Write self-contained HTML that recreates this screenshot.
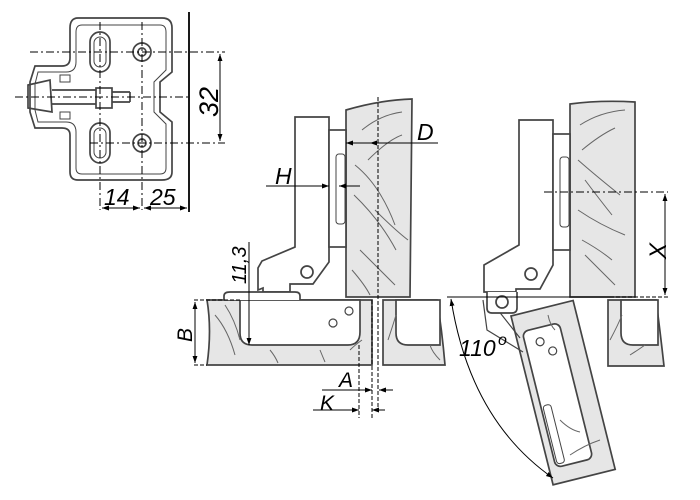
<!DOCTYPE html>
<html><head><meta charset="utf-8"><style>
html,body{margin:0;padding:0;background:#fff;}
svg{display:block;}
text{font-family:"Liberation Sans",sans-serif;font-style:italic;fill:#000;}
</style></head><body>
<svg width="700" height="500" viewBox="0 0 700 500" xmlns="http://www.w3.org/2000/svg">
<defs>
<marker id="ar" viewBox="0 0 10 10" refX="10" refY="5" markerWidth="7" markerHeight="7" orient="auto-start-reverse"><path d="M0,1.5 L10,5 L0,8.5z" fill="#000"/></marker>
</defs>
<g fill="none" stroke="#444" stroke-width="1.7">
<path d="M78,18 H162 Q172,18 172,28 V72 L160,82 V112 L172,122 V172 Q172,180 162,180 H78 Q70,180 70,172 V135 Q70,128 62,128 H35 L30,112 V82 L35,66 H62 Q70,66 70,58 V28 Q70,18 78,18z"/>
<path d="M82,25 H160 Q166,25 166,32 V70 L154,82 V112 L166,124 V168 Q166,174 160,174 H82 Q76,174 76,168 V132 Q76,122 66,122 H38 L35,110 V84 L38,72 H66 Q76,72 76,62 V32 Q76,25 82,25z" stroke-width="1"/>
<rect x="90" y="32" width="20" height="40" rx="10"/>
<rect x="94" y="37" width="12" height="30" rx="6" stroke-width="1"/>
<rect x="90" y="123" width="20" height="40" rx="10"/>
<rect x="94" y="128" width="12" height="30" rx="6" stroke-width="1"/>
<circle cx="142" cy="52" r="9"/><circle cx="142" cy="52" r="4"/>
<circle cx="142" cy="143" r="9"/><circle cx="142" cy="143" r="4"/>
<rect x="96" y="88" width="16" height="20"/>
<path d="M28,85 L50,80 L52,112 L28,108z"/>
<path d="M52,90 H96 M52,104 H96 M112,92 H130 M112,102 H130 M130,92 V102"/>
<path d="M60,75 H70 V82 H60z M60,112 H70 V119 H60z" stroke-width="1"/>
</g>
<g stroke="#000" stroke-width="1" fill="none">
<path d="M30,52 H225 M15,97 H190 M90,143 H225 M100,22 V210 M142,22 V210" stroke-dasharray="8,3,2,3"/>
<path d="M189,12 V212" stroke-width="1.8"/>
<path d="M220,54 V141" marker-start="url(#ar)" marker-end="url(#ar)"/>
<path d="M102,208 H140" marker-start="url(#ar)" marker-end="url(#ar)"/>
<path d="M144,208 H187" marker-start="url(#ar)" marker-end="url(#ar)"/>
</g>
<text x="0" y="0" font-size="27" font-style="normal" transform="translate(218,117) rotate(-90)">32</text>
<text x="104" y="205" font-size="23">14</text>
<text x="150" y="205" font-size="23">25</text>

<!-- middle drawing -->
<g stroke="#444" stroke-width="1.7">
<path d="M346,110 Q380,100 412,99 L410,297 H346z" fill="#e6e6e6"/>
<path d="M207,300 H372 V365 H207 Q212,330 207,300z" fill="#e6e6e6"/>
<path d="M240,300 H360 V332 Q360,345 348,345 H252 Q240,345 240,333z" fill="#fff"/>
<path d="M383,300 H437 Q442,330 445,365 H383z" fill="#e6e6e6"/>
<path d="M396,300 H440 V345 H408 Q396,345 396,333z" fill="#fff"/>
<path d="M295,117 H329 V262 L313,284 H290 V292 L263,292 V288 L258,290 V268 L262,261 L295,247z" fill="#fff"/>
<rect x="329" y="130" width="17" height="117" fill="#fff"/>
<rect x="336" y="154" width="9" height="70" rx="3" fill="#fff" stroke-width="1"/>
<path d="M224,300 V296 Q224,292 230,292 H295 Q300,292 300,296 V300" fill="#fff"/>
<circle cx="307" cy="272" r="6" fill="#fff"/>
<circle cx="333" cy="323" r="4" fill="#fff" stroke-width="1.2"/>
<circle cx="349" cy="311" r="4" fill="#fff" stroke-width="1.2"/>
</g>
<g stroke="#666" stroke-width="1" fill="none">
<path d="M362,130 Q380,115 402,112 M368,160 Q388,140 402,135 M355,165 Q380,185 395,225 M354,195 Q380,220 396,250 M360,250 Q380,270 395,285 M375,210 Q395,230 408,240 M352,270 Q365,285 370,295"/>
<path d="M215,315 Q228,330 235,355 M225,305 Q235,320 240,340 M270,350 Q275,356 278,363 M320,350 Q322,355 325,362 M350,350 Q355,345 362,340 M388,340 Q393,325 396,315 M430,345 Q432,352 440,360"/>
</g>
<g stroke="#000" stroke-width="1" fill="none">
<path d="M378,97 V412 M372,300 V418 M359,345 V418" stroke-dasharray="4,2"/>
<path d="M194,300 H240 M194,365 H207" stroke-dasharray="4,2"/>
<path d="M438,143 H346" marker-end="url(#ar)"/>
<path d="M378,143 H370" marker-end="url(#ar)"/>
<path d="M266,186 H329" marker-end="url(#ar)"/>
<path d="M360,186 H339" marker-end="url(#ar)"/>
<path d="M249,242 V345" marker-end="url(#ar)"/>
<path d="M195,302 V363" marker-start="url(#ar)" marker-end="url(#ar)"/>
<path d="M322,390 H372" marker-end="url(#ar)"/>
<path d="M393,390 H379" marker-end="url(#ar)"/>
<path d="M313,410 H359" marker-end="url(#ar)"/>
<path d="M385,410 H372" marker-end="url(#ar)"/>
</g>
<text x="417" y="140" font-size="23">D</text>
<text x="275" y="184" font-size="23">H</text>
<text x="339" y="387" font-size="21">A</text>
<text x="320" y="410" font-size="21">K</text>
<text font-size="20" transform="translate(246,284) rotate(-90)">11,3</text>
<text font-size="21" transform="translate(192,342) rotate(-90)">B</text>

<!-- right drawing -->
<g stroke="#444" stroke-width="1.7">
<path d="M570,104 Q600,100 635,102 L635,297 H570z" fill="#e6e6e6"/>
<path d="M608,300 H656 Q660,330 664,366 H608z" fill="#e6e6e6"/>
<path d="M621,300 H658 V345 H633 Q621,345 621,333z" fill="#fff"/>
<g transform="translate(511,316) rotate(-14)">
<rect x="0" y="0" width="64" height="174" fill="#e6e6e6"/>
<rect x="7" y="18" width="38" height="140" rx="6" fill="#fff"/>
<rect x="9" y="95" width="8" height="60" rx="3" fill="#fff" stroke-width="1"/>
<circle cx="22" cy="32" r="4" fill="#fff" stroke-width="1.2"/>
<circle cx="32" cy="44" r="4" fill="#fff" stroke-width="1.2"/>
</g>
<path d="M483,300 L487,330 L523,352 M490,300 L520,338" fill="none" stroke-width="1.2"/>
<path d="M519,120 H553 V265 L540,289 H516 V292 L484,292 V265 L519,245z" fill="#fff"/>
<path d="M487,292 V308 Q487,313 492,313 H512 Q517,313 517,308 V292" fill="#fff"/>
<rect x="553" y="134" width="17" height="116" fill="#fff"/>
<rect x="560" y="157" width="9" height="70" rx="3" fill="#fff" stroke-width="1"/>
<circle cx="531" cy="274" r="6" fill="#fff"/>
<circle cx="502" cy="302" r="6" fill="#fff"/>
</g>
<g stroke="#666" stroke-width="1" fill="none">
<path d="M580,125 Q600,112 625,110 M582,150 Q600,135 615,128 M578,160 Q595,175 620,195 M585,180 Q600,200 612,215 M578,210 Q600,225 625,235 M585,255 Q600,270 615,285 M582,240 Q600,250 612,260"/>
<path d="M610,340 Q618,325 622,315 M630,355 Q638,350 645,345 M548,315 Q550,325 555,330 M560,420 Q570,430 580,432 M570,455 Q585,445 600,440"/>
</g>
<g stroke="#000" stroke-width="1" fill="none">
<path d="M544,192 H668" stroke-dasharray="8,3,2,3"/>
<path d="M447,297 H610"/>
<path d="M610,297 H668" stroke-dasharray="4,2"/>
<path d="M665,194 V295" marker-start="url(#ar)" marker-end="url(#ar)"/>
<path d="M451,299 Q470,420 553,478" marker-start="url(#ar)" marker-end="url(#ar)"/>
</g>
<text x="459" y="356" font-size="23">110</text><text x="498" y="345" font-size="16">o</text>
<text font-size="24" font-style="normal" transform="translate(666,259) rotate(-90)">X</text>
</svg>
</body></html>
